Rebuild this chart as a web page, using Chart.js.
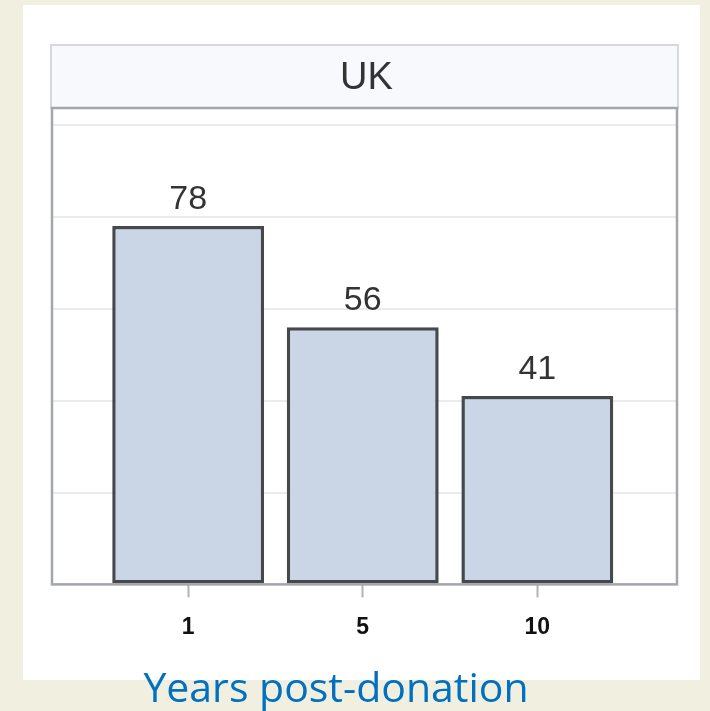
<!DOCTYPE html>
<html>
<head>
<meta charset="utf-8">
<script src="https://cdn.jsdelivr.net/npm/chart.js@4.4.0/dist/chart.umd.min.js"></script>
<style>
  html, body { margin: 0; padding: 0; background: #f1efdf; overflow: hidden; }
  #wrap { width: 710px; height: 711px; position: relative; }
</style>
</head>
<body>
<div id="wrap"><canvas id="ukChart"></canvas></div>
<script>
// data
const categories = ['1', '5', '10'];
const survival = [78, 56, 41];
const panelTitle = 'UK';
const xTitle = 'Years post-donation';
const yMax = 103.7;
const yStep = 20;

// backdrop: white card + facet header strip
const backdrop = {
    id: 'backdrop',
    beforeDraw(chart) {
        const ctx = chart.ctx;
        const area = chart.chartArea;
        ctx.save();
        ctx.fillStyle = '#ffffff';
        ctx.fillRect(23, 5, 677, 675);

        // header box above the plot
        const top = area.top - 63;
        ctx.fillStyle = '#f8f9fd';
        ctx.fillRect(area.left - 1, top, area.right - area.left + 2, 63);
        ctx.strokeStyle = '#d6d8dc';
        ctx.lineWidth = 2;
        ctx.strokeRect(area.left - 1, top, area.right - area.left + 2, 63);

        ctx.fillStyle = '#333333';
        ctx.font = '38px Arial, "Liberation Sans", sans-serif';
        ctx.textAlign = 'center';
        ctx.textBaseline = 'alphabetic';
        ctx.fillText(panelTitle, (area.left + area.right) / 2 + 2, area.top - 19);
        ctx.restore();
    },
    afterDatasetsDraw(chart) {
        const ctx = chart.ctx;
        const area = chart.chartArea;
        ctx.save();
        // plot frame
        ctx.strokeStyle = '#a3a7ab';
        ctx.lineWidth = 2.5;
        ctx.strokeRect(area.left, area.top, area.right - area.left, area.bottom - area.top);

        // value labels on top of the bars
        ctx.fillStyle = '#333333';
        ctx.font = '34px Arial, "Liberation Sans", sans-serif';
        ctx.textAlign = 'center';
        ctx.textBaseline = 'alphabetic';
        chart.getDatasetMeta(0).data.forEach((bar, i) => {
            ctx.fillText(String(survival[i]), bar.x, bar.y - 17);
        });

        // axis title (sits off-centre in the original)
        ctx.fillStyle = '#0070c0';
        ctx.font = '41px "Open Sans", sans-serif';
        ctx.fillText(xTitle, area.left + 284, 702);
        ctx.restore();
    }
};

const ctx = document.getElementById('ukChart').getContext('2d');
const ukChart = new Chart(ctx, {
    type: 'bar',
    data: {
        datasets: [{
            label: 'UK',
            data: survival.map((v, i) => ({ x: i, y: v })),
            backgroundColor: '#cad5e5',
            borderColor: '#45484c',
            borderWidth: 3.5,
            borderSkipped: false,
            barPercentage: 0.87,
            categoryPercentage: 1
        }]
    },
    options: {
        responsive: true,
        maintainAspectRatio: false,
        animation: false,
        events: [],
        layout: {
            padding: { left: 52, right: 33, top: 108, bottom: 54 }
        },
        plugins: {
            legend: { display: false },
            tooltip: { enabled: false },
            title: { display: false }
        },
        scales: {
            x: {
                type: 'linear',
                min: -0.78,
                max: 2.8,
                offset: false,
                afterBuildTicks: scale => {
                    scale.ticks = categories.map((c, i) => ({ value: i }));
                },
                ticks: {
                    callback: v => categories[v],
                    color: '#111111',
                    padding: 16,
                    font: { family: 'Arial', size: 23, weight: 'bold' }
                },
                grid: {
                    offset: false,
                    drawOnChartArea: false,
                    drawTicks: true,
                    tickLength: 13,
                    tickColor: '#b0b3b6',
                    tickWidth: 2
                },
                border: { display: false }
            },
            y: {
                min: 0,
                max: yMax,
                ticks: { display: false, stepSize: yStep },
                grid: {
                    color: '#ebebeb',
                    lineWidth: 2,
                    drawTicks: false
                },
                border: { display: false }
            }
        }
    },
    plugins: [backdrop]
});
</script>
</body>
</html>
